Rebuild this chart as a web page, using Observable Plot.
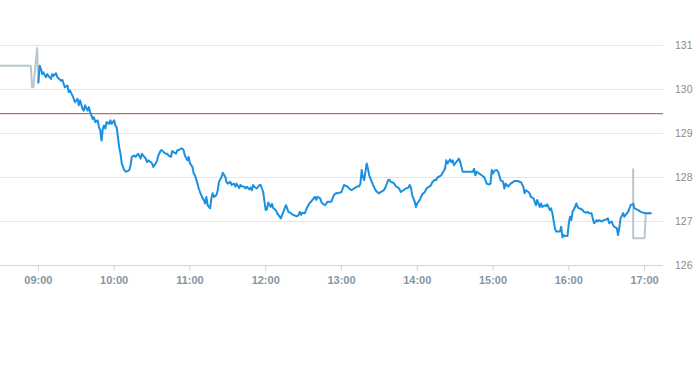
<!DOCTYPE html>
<html><head><meta charset="utf-8">
<script src="https://cdn.jsdelivr.net/npm/d3@7"></script>
<script src="https://cdn.jsdelivr.net/npm/@observablehq/plot@0.6"></script>
<style>body{margin:0;background:#fff}#chart svg{display:block}</style>
</head><body><div id="chart"></div>
<script>
// Regular session: minutes after 09:00 and price
const openTime = "09:00";
const sessionMinutes = [0,1,2,3,4,6,7,8,10,11,12,14,15,18,19,20,21,23,24,25,27,28,29,31,32,33,35,36,37,39,40,41,43,44,45,47,48,49,50,51,52,53,54,56,57,58,60,61,62,64,65,66,68,69,70,72,73,74,76,77,79,81,82,83,85,86,87,89,90,91,93,94,95,97,98,99,101,102,103,105,106,107,109,110,111,113,114,115,116,118,119,120,122,123,124,126,127,128,130,131,132,133,134,136,137,138,139,141,142,143,145,146,148,149,150,152,153,155,156,157,159,160,161,163,164,165,167,168,169,170,171,173,174,175,176,177,178,180,181,182,184,185,186,188,189,190,192,193,194,196,197,198,200,201,202,204,205,206,207,208,209,211,212,213,215,216,217,219,220,221,223,224,225,227,228,229,231,232,233,234,236,237,238,240,241,242,244,245,246,247,248,250,251,252,254,255,256,257,258,260,261,262,264,265,266,267,269,270,271,273,274,275,277,278,279,281,282,283,285,286,287,289,290,291,293,294,295,296,298,299,300,302,303,304,306,307,308,310,311,312,314,315,316,318,319,320,322,323,324,326,327,328,329,330,332,333,334,336,338,341,344,345,346,347,349,350,351,353,354,355,357,358,359,360,361,363,364,365,366,368,369,370,372,373,374,376,377,378,380,381,382,384,385,386,388,389,390,392,393,394,395,397,398,399,401,402,403,405,406,407,409,410,411,413,414,415,416,417,419,420,421,422,423,425,426,427,428,430,431,432,434,435,436,438,439,440,442,443,444,446,447,448,450,451,452,454,455,456,458,459,460,461,463,464,465,467,468,469,471,472,475,477,480,483,485];
const sessionPrices = [130.16,130.54,130.47,130.35,130.39,130.28,130.35,130.31,130.24,130.35,130.31,130.37,130.28,130.20,130.22,130.13,130.05,130.09,129.94,129.98,129.86,129.79,129.71,129.79,129.64,129.75,129.56,129.52,129.64,129.52,129.60,129.48,129.33,129.37,129.26,129.30,129.14,129.07,128.84,129.11,129.18,129.11,129.26,129.22,129.30,129.22,129.30,129.18,129.14,128.69,128.54,128.32,128.17,128.13,128.14,128.17,128.28,128.47,128.50,128.47,128.54,128.43,128.54,128.50,128.43,128.35,128.39,128.35,128.32,128.24,128.32,128.39,128.50,128.62,128.62,128.58,128.54,128.54,128.50,128.47,128.60,128.58,128.54,128.62,128.62,128.66,128.66,128.62,128.50,128.39,128.47,128.32,128.24,128.09,128.05,127.86,127.75,127.67,127.53,127.49,127.41,127.56,127.37,127.30,127.53,127.64,127.56,127.60,127.71,127.90,128.01,128.11,128.01,127.90,127.86,127.90,127.83,127.86,127.79,127.86,127.76,127.83,127.80,127.79,127.75,127.79,127.73,127.77,127.71,127.83,127.79,127.75,127.79,127.83,127.83,127.75,127.67,127.26,127.28,127.43,127.33,127.40,127.30,127.26,127.19,127.15,127.07,127.15,127.22,127.37,127.30,127.22,127.19,127.16,127.15,127.12,127.12,127.15,127.22,127.15,127.20,127.19,127.26,127.33,127.43,127.45,127.49,127.56,127.49,127.56,127.53,127.45,127.41,127.37,127.41,127.45,127.45,127.45,127.53,127.60,127.65,127.64,127.65,127.67,127.75,127.83,127.80,127.79,127.75,127.73,127.71,127.75,127.77,127.79,127.80,127.86,128.17,128.01,127.94,128.32,128.20,128.05,127.90,127.83,127.77,127.71,127.65,127.64,127.67,127.70,127.73,127.79,127.94,127.95,127.90,127.88,127.85,127.80,127.77,127.73,127.67,127.71,127.73,127.75,127.77,127.83,127.77,127.60,127.45,127.33,127.41,127.49,127.56,127.62,127.67,127.73,127.77,127.80,127.83,127.90,127.95,127.94,128.00,128.03,128.05,128.10,128.20,128.39,128.32,128.41,128.35,128.39,128.28,128.32,128.39,128.43,128.35,128.13,128.13,128.13,128.13,128.20,128.05,128.13,128.09,128.07,128.05,128.01,127.94,127.86,127.84,127.86,128.17,128.09,128.15,128.17,128.13,128.05,127.94,127.90,127.75,127.86,127.79,127.83,127.86,127.90,127.92,127.92,127.92,127.90,127.90,127.79,127.64,127.71,127.67,127.64,127.56,127.53,127.45,127.37,127.49,127.33,127.41,127.33,127.37,127.35,127.39,127.26,127.30,127.19,126.85,126.77,126.77,126.77,126.88,126.64,126.69,126.67,126.67,126.96,127.11,127.03,127.22,127.33,127.41,127.33,127.30,127.28,127.26,127.22,127.20,127.22,127.19,127.19,127.07,126.96,127.03,127.00,127.03,127.00,127.02,127.03,127.05,127.07,126.96,127.00,126.92,126.88,126.85,126.69,126.85,127.07,127.19,127.11,127.15,127.22,127.30,127.37,127.40,127.30,127.26,127.22,127.19,127.19,127.19];

// Extended hours (pre-market and after-hours)
const preTimes = ["08:30","08:54","08:55","08:56","08:59","09:00"];
const prePrices = [130.54,130.54,130.05,130.05,130.94,130.16];
const postTimes = ["16:51","16:51","16:51","17:00","17:01","17:05"];
const postPrices = [127.40,128.19,126.62,126.62,127.19,127.19];

const referencePrice = 129.45;
const yTicks = [126,127,128,129,130,131];
const xTickLabels = ["09:00","10:00","11:00","12:00","13:00","14:00","15:00","16:00","17:00"];
const xDomain = ["08:30","17:15"];

const day = "2024-03-05";
const parse = t => new Date(`${day}T${t}:00`);
const openDate = parse(openTime);
const session = sessionMinutes.map((m, i) => ({t: new Date(+openDate + m * 60000), p: sessionPrices[i]}));
const pre = preTimes.map((t, i) => ({t: parse(t), p: prePrices[i]}));
const post = postTimes.map((t, i) => ({t: parse(t), p: postPrices[i]}));

const chart = Plot.plot({
  width: 693,
  height: 365,
  marginLeft: 0,
  marginRight: 30,
  marginTop: 45,
  marginBottom: 100,
  style: {fontFamily: "'Liberation Sans', Arial, sans-serif", background: "#fff"},
  x: {type: "time", domain: xDomain.map(parse)},
  y: {domain: [126, 131]},
  marks: [
    Plot.ruleY(yTicks.filter(d => d !== 126), {stroke: "#e6e6e6", strokeWidth: 1}),
    Plot.ruleY([126], {stroke: "#ccd6e0", strokeWidth: 1}),
    Plot.ruleY([referencePrice], {stroke: "#d23a30", strokeWidth: 1}),
    Plot.line(pre, {x: "t", y: "p", stroke: "#b9c6d0", strokeWidth: 2, curve: "linear"}),
    Plot.line(post, {x: "t", y: "p", stroke: "#b9c6d0", strokeWidth: 2, curve: "linear"}),
    Plot.line(session, {x: "t", y: "p", stroke: "#1990e0", strokeWidth: 2, curve: "linear", strokeLinejoin: "round"}),
    Plot.axisX({
      ticks: xTickLabels.map(parse),
      tickFormat: d3.timeFormat("%H:%M"),
      tickSize: 6,
      tickPadding: 5,
      stroke: "#ccd6e0",
      fill: "#8795a3",
      fontSize: 11,
      fontWeight: "bold",
      label: null
    }),
    Plot.axisY({
      anchor: "right",
      ticks: yTicks,
      tickFormat: d3.format("d"),
      tickSize: 0,
      tickPadding: 29,
      textAnchor: "end",
      fill: "#8c8c8c",
      fontSize: 10.5,
      label: null
    })
  ]
});
document.getElementById("chart").appendChild(chart);
</script>
</body></html>
